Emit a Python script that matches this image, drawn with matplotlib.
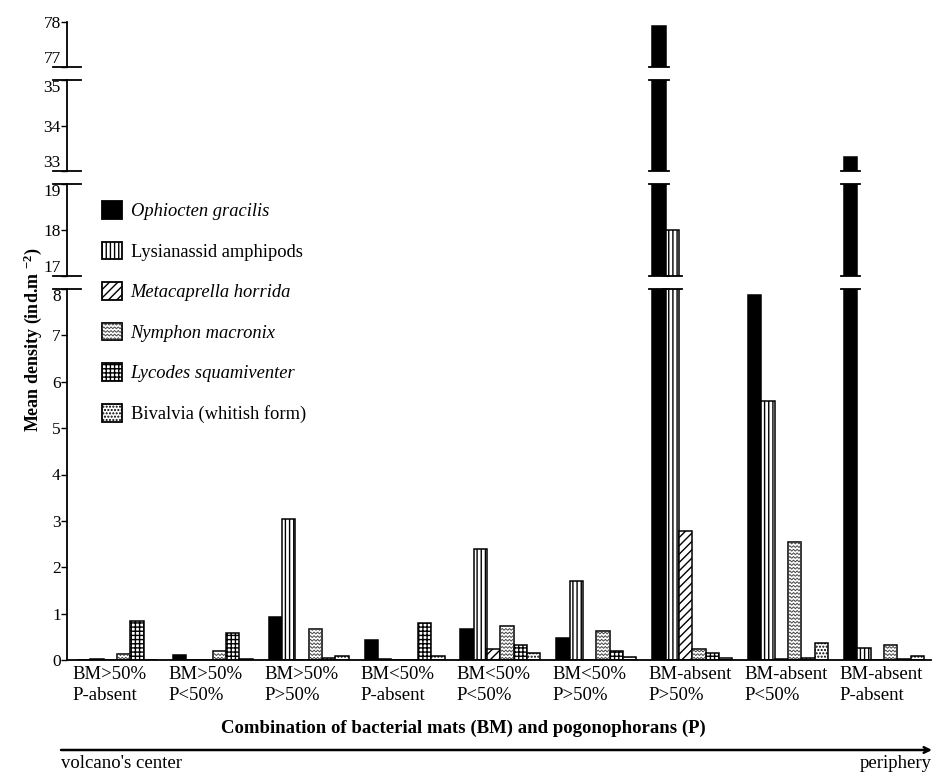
"""Mean density of the main taxa across bacterial mat / pogonophoran habitats."""

import numpy as np
import matplotlib
matplotlib.use('Agg')
import matplotlib.pyplot as plt
from matplotlib.patches import Patch, Rectangle
from matplotlib.lines import Line2D
from matplotlib.legend_handler import HandlerPatch

plt.rcParams['font.family'] = 'Liberation Serif'
plt.rcParams['mathtext.default'] = 'regular'
plt.rcParams['hatch.linewidth'] = 1.0

categories = ['BM>50%\nP-absent', 'BM>50%\nP<50%', 'BM>50%\nP>50%',
              'BM<50%\nP-absent', 'BM<50%\nP<50%', 'BM<50%\nP>50%',
              'BM-absent\nP>50%', 'BM-absent\nP<50%', 'BM-absent\nP-absent']
species = ['Ophiocten gracilis', 'Lysianassid amphipods', 'Metacaprella horrida',
           'Nymphon macronix', 'Lycodes squamiventer', 'Bivalvia (whitish form)']
italic = [True, False, True, True, True, False]

# mean density, ind. per m2
ophiocten = [0, 0.10, 0.92, 0.43, 0.66, 0.48, 77.9, 7.88, 33.3]
lysianassid = [0.03, 0, 3.05, 0.02, 2.40, 1.71, 18.0, 5.58, 0.25]
metacaprella = [0, 0, 0, 0, 0.23, 0.01, 2.79, 0.02, 0]
nymphon = [0.12, 0.19, 0.66, 0, 0.73, 0.63, 0.23, 2.55, 0.32]
lycodes = [0.85, 0.59, 0.04, 0.80, 0.33, 0.19, 0.16, 0.05, 0.02]
bivalvia = [0, 0.02, 0.09, 0.08, 0.16, 0.07, 0.04, 0.36, 0.09]
series = [ophiocten, lysianassid, metacaprella, nymphon, lycodes, bivalvia]

# pieces of the broken y axis, bottom to top
segments = [(0, 8), (17, 19), (33, 35), (77, 78)]
seg_ticks = [list(range(0, 9)), [17, 18, 19], [33, 34, 35], [77, 78]]

# fill / hatch per species (Nymphon gets a drawn zig-zag instead of a hatch)
faces = ['black', 'white', 'white', 'white', 'white', 'white']
hatches = [None, '||||', '////', None, '++++', '.....']

W, H = 934, 776
LEFT, RIGHT = 67, 931
# pixel rows (bottom, top) of each axis piece, measured from the top edge
seg_px = [(660, 289), (276, 184), (171, 80), (67, 22)]


def wave_rows(x0, y0, w, h, step):
    """Zig-zag rows covering the box (x0, y0, w, h)."""
    xs = np.arange(x0, x0 + w + step / 2, step / 2)
    bump = np.where(np.arange(len(xs)) % 2 == 0, -step / 4, step / 4)
    return [(xs, yc + bump) for yc in np.arange(y0 + step / 2, y0 + h, step)]


class WaveHandler(HandlerPatch):
    def create_artists(self, legend, orig_handle, xdescent, ydescent,
                       width, height, fontsize, trans):
        rect = Rectangle((-xdescent, -ydescent), width, height, facecolor='white',
                         edgecolor='black', linewidth=1.3, transform=trans)
        arts = [rect]
        for xs, ys in wave_rows(-xdescent, -ydescent, width, height, 2.6):
            ln = Line2D(xs, ys, color='#444444', linewidth=0.7, transform=trans)
            ln.set_clip_path(rect)
            arts.append(ln)
        return arts


fig = plt.figure(figsize=(W / 100, H / 100), dpi=100)
x = np.arange(len(categories))
width = 0.139

axes = []
for k, ((lo, hi), ticks, (p0, p1)) in enumerate(zip(segments, seg_ticks, seg_px)):
    ax = fig.add_axes([LEFT / W, 1 - p0 / H, (RIGHT - LEFT) / W, (p0 - p1) / H])
    bars = []
    for j, vals in enumerate(series):
        bc = ax.bar(x + (j - 2.5) * width, vals, width, color=faces[j],
                    edgecolor='black', linewidth=1.1, hatch=hatches[j])
        bars.append(bc)
    ax.set_xlim(-0.52, 8.49)
    ax.set_ylim(lo, hi)
    ax.set_yticks(ticks)
    ax.tick_params(axis='y', direction='out', length=4, width=1, labelsize=12.5, pad=0.5)
    # keep labels at the cut edges clear of each other
    yt = ax.yaxis.get_major_ticks()
    if k > 0:
        yt[0].label1.set_va('bottom')
    if k < len(segments) - 1:
        yt[-1].label1.set_va('top')
    for side in ['top', 'right']:
        ax.spines[side].set_visible(False)
    ax.spines['left'].set_linewidth(1.3)
    ax.patch.set_alpha(0)
    axes.append((ax, bars))

# x axis only on the bottom piece
ax0, bars0 = axes[0]
ax0.spines['bottom'].set_linewidth(1.3)
ax0.set_xticks(x - 0.46, categories, ha='left', fontsize=13.5, linespacing=1.35)
ax0.tick_params(axis='x', length=0, pad=4)
for ax, _ in axes[1:]:
    ax.spines['bottom'].set_visible(False)
    ax.set_xticks([])

# zig-zag fill for the Nymphon bars
to_data = ax0.transData.inverted()
for bar in bars0[3]:
    bb = bar.get_window_extent()
    if bb.height < 1:
        continue
    for xs, ys in wave_rows(bb.x0, bb.y0, bb.width, bb.height, 3.6):
        pts = to_data.transform(np.column_stack([xs, ys]))
        ln, = ax0.plot(pts[:, 0], pts[:, 1], color='#444444', linewidth=0.7)
        ln.set_clip_path(bar)

# break marks on the y axis and across bars that continue into the next piece
ext = 0.031
for k in range(len(segments) - 1):
    lower, upper = axes[k][0], axes[k + 1][0]
    top = segments[k][1]
    for ax, yy in [(lower, 1), (upper, 0)]:
        ax.plot([-0.016, 0.016], [yy, yy], transform=ax.transAxes, color='black',
                linewidth=1.3, clip_on=False)
    for j, vals in enumerate(series):
        for i, v in enumerate(vals):
            if v > top:
                xl = i + (j - 3) * width - ext
                xr = i + (j - 2) * width + ext
                lower.plot([xl, xr], [top, top], color='black', linewidth=1.3,
                           clip_on=False)
                upper.plot([xl, xr], [segments[k + 1][0]] * 2, color='black',
                           linewidth=1.3, clip_on=False)

# legend
handles = [Patch(facecolor=faces[j], edgecolor='black', linewidth=1.3, hatch=hatches[j])
           for j in range(len(species))]
leg = fig.legend(handles, species, loc='upper left',
                 bbox_to_anchor=(102 / W, 1 - 201 / H), frameon=False, fontsize=13.3,
                 handlelength=1.1, handleheight=1.1, labelspacing=1.16,
                 handletextpad=0.45, borderpad=0, borderaxespad=0,
                 handler_map={handles[3]: WaveHandler()})
for txt, it in zip(leg.get_texts(), italic):
    if it:
        txt.set_style('italic')

fig.text(33 / W, 1 - 340 / H, 'Mean density (ind.m $^{-2}$)', rotation=90,
         fontsize=13, fontweight='bold', ha='center', va='center')
fig.text(463 / W, 1 - 728 / H,
         'Combination of bacterial mats (BM) and pogonophorans (P)',
         fontsize=13.5, fontweight='bold', ha='center', va='center')

# gradient arrow from the volcano centre outwards
ax0.annotate('', xy=(932 / W, 1 - 750 / H), xytext=(61 / W, 1 - 750 / H),
             xycoords='figure fraction', textcoords='figure fraction',
             arrowprops=dict(arrowstyle='->', lw=1.8, color='black',
                             shrinkA=0, shrinkB=0))
fig.text(61 / W, 1 - 763 / H, "volcano's center", fontsize=13.5, ha='left', va='center')
fig.text(932 / W, 1 - 763 / H, 'periphery', fontsize=13.5, ha='right', va='center')

fig.savefig('out.png', dpi=100)
